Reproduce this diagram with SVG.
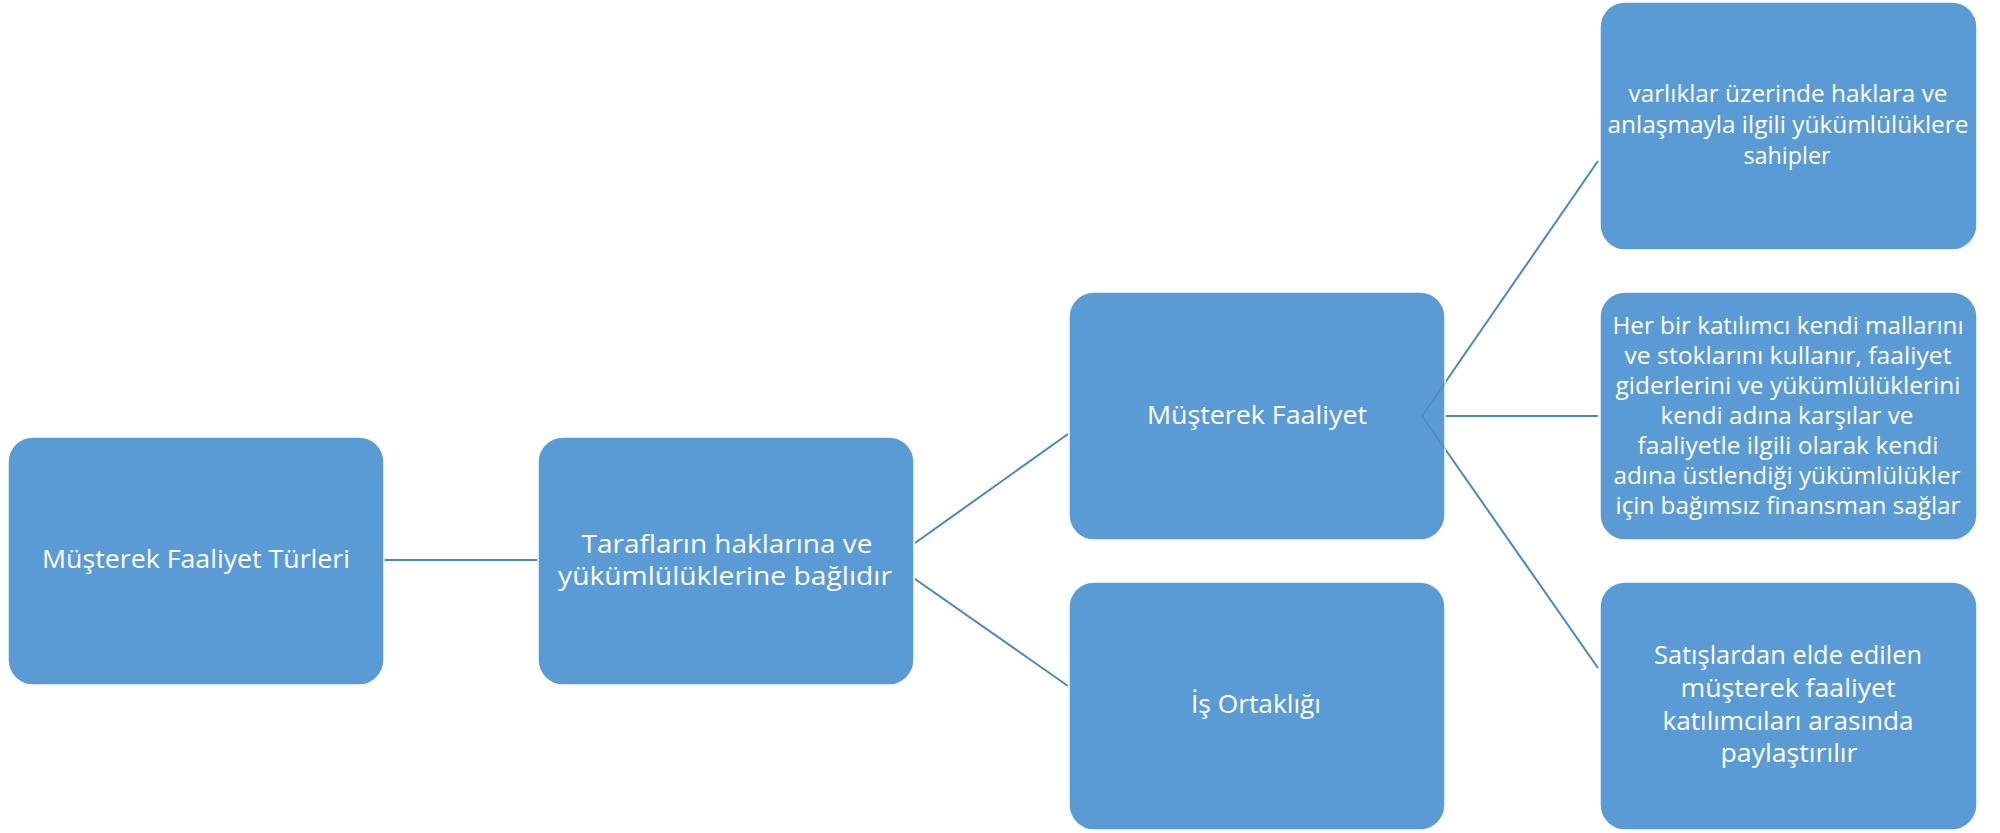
<svg xmlns="http://www.w3.org/2000/svg" width="2000" height="833" viewBox="0 0 2000 833">
  <style>
    .box { fill: #5B9BD5; stroke: #FFFFFF; stroke-width: 1.5; }
    .lbl { fill: #FFFFFF; font-family: "Open Sans", "Liberation Sans", sans-serif; text-anchor: middle; }
    .c { fill: none; stroke: #4A86C0; stroke-width: 2; }
    .ov { fill: none; stroke: #3F7AB3; stroke-width: 2; stroke-opacity: 0.45; }
  </style>
  <rect width="2000" height="833" fill="#FFFFFF"/>
  <g id="connectors">
    <path class="c" d="M384,560 L538,560"/>
    <path class="c" d="M915,543 L1068,434"/>
    <path class="c" d="M915,579 L1068,686"/>
    <path class="c" d="M1422,416 L1598,161"/>
    <path class="c" d="M1445,416 L1598,416"/>
    <path class="c" d="M1422,416 L1598,668"/>
  </g>
  <g id="n-turleri">
    <rect class="box" x="8" y="437" width="376" height="248" rx="25"/>
    <text class="lbl" font-size="25.5" x="196" y="568" textLength="308" lengthAdjust="spacingAndGlyphs">Müşterek Faaliyet Türleri</text>
  </g>
  <g id="n-baglidir">
    <rect class="box" x="538" y="437" width="376" height="248" rx="25"/>
    <text class="lbl" font-size="25.5" x="727" y="553" textLength="291" lengthAdjust="spacingAndGlyphs">Tarafların haklarına ve</text>
    <text class="lbl" font-size="25.5" x="725" y="585" textLength="334" lengthAdjust="spacingAndGlyphs">yükümlülüklerine bağlıdır</text>
  </g>
  <g id="n-musterek-faaliyet">
    <rect class="box" x="1069" y="292" width="376" height="248" rx="25"/>
    <text class="lbl" font-size="25.5" x="1257" y="424" textLength="220" lengthAdjust="spacingAndGlyphs">Müşterek Faaliyet</text>
  </g>
  <g id="n-is-ortakligi">
    <rect class="box" x="1069" y="582" width="376" height="248" rx="25"/>
    <text class="lbl" font-size="25.5" x="1256" y="713" textLength="130" lengthAdjust="spacingAndGlyphs">İş Ortaklığı</text>
  </g>
  <g id="n-varliklar">
    <rect class="box" x="1600" y="2" width="377" height="248" rx="25"/>
    <text class="lbl" font-size="24.5" x="1788" y="102" textLength="319" lengthAdjust="spacingAndGlyphs">varlıklar üzerinde haklara ve</text>
    <text class="lbl" font-size="24.5" x="1788" y="133" textLength="361" lengthAdjust="spacingAndGlyphs">anlaşmayla ilgili yükümlülüklere</text>
    <text class="lbl" font-size="24.5" x="1787" y="164" textLength="87" lengthAdjust="spacingAndGlyphs">sahipler</text>
  </g>
  <g id="n-her-bir">
    <rect class="box" x="1600" y="292" width="377" height="248" rx="25"/>
    <text class="lbl" font-size="24" x="1788" y="334" textLength="351" lengthAdjust="spacingAndGlyphs">Her bir katılımcı kendi mallarını</text>
    <text class="lbl" font-size="24" x="1788" y="364" textLength="327" lengthAdjust="spacingAndGlyphs">ve stoklarını kullanır, faaliyet</text>
    <text class="lbl" font-size="24" x="1788" y="394" textLength="345" lengthAdjust="spacingAndGlyphs">giderlerini ve yükümlülüklerini</text>
    <text class="lbl" font-size="24" x="1787" y="424" textLength="253" lengthAdjust="spacingAndGlyphs">kendi adına karşılar ve</text>
    <text class="lbl" font-size="24" x="1788" y="454" textLength="301" lengthAdjust="spacingAndGlyphs">faaliyetle ilgili olarak kendi</text>
    <text class="lbl" font-size="24" x="1787" y="484" textLength="347" lengthAdjust="spacingAndGlyphs">adına üstlendiği yükümlülükler</text>
    <text class="lbl" font-size="24" x="1788" y="514" textLength="345" lengthAdjust="spacingAndGlyphs">için bağımsız finansman sağlar</text>
  </g>
  <g id="n-satislardan">
    <rect class="box" x="1600" y="582" width="377" height="248" rx="25"/>
    <text class="lbl" font-size="25" x="1788" y="664" textLength="268" lengthAdjust="spacingAndGlyphs">Satışlardan elde edilen</text>
    <text class="lbl" font-size="25" x="1788" y="697" textLength="215" lengthAdjust="spacingAndGlyphs">müşterek faaliyet</text>
    <text class="lbl" font-size="25" x="1788" y="730" textLength="251" lengthAdjust="spacingAndGlyphs">katılımcıları arasında</text>
    <text class="lbl" font-size="25" x="1789" y="762" textLength="137" lengthAdjust="spacingAndGlyphs">paylaştırılır</text>
  </g>
  <g id="connector-overlay">
    <path class="ov" d="M1422,416 L1445,383"/>
    <path class="ov" d="M1422,416 L1445,449"/>
  </g>
</svg>
